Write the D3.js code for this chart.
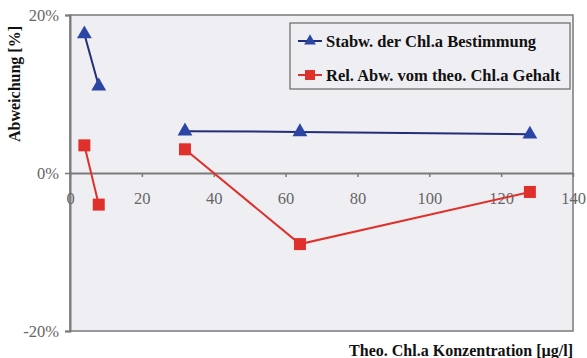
<!DOCTYPE html>
<html><head><meta charset="utf-8">
<script src="https://cdn.jsdelivr.net/npm/d3@7"></script>
<style>body{margin:0;background:#fff}</style>
</head><body>
<svg id="c" width="587" height="358"></svg>
<script>
const xValues = [4, 8, null, 32, 64, 128];
const stabw = [17.6, 11.0, null, 5.3, 5.2, 4.9];
const relAbw = [3.5, -4.0, null, 3.0, -9.0, -2.4];
const seriesNames = ["Stabw. der Chl.a Bestimmung", "Rel. Abw. vom theo. Chl.a Gehalt"];
const xTicks = [0, 20, 40, 60, 80, 100, 120, 140];
const yTicks = [-20, 0, 20];
const xTitle = "Theo. Chl.a Konzentration [µg/l]";
const yTitle = "Abweichung [%]";

const svg = d3.select("#c");
const L = 70, R = 573, T = 15, B = 331;
const x = d3.scaleLinear().domain([0, 140]).range([L, R]);
const y = d3.scaleLinear().domain([-20, 20]).range([B, T]);
const axisCol = "#7a7a7a";
const serif = "Liberation Serif, Times New Roman, serif";

svg.append("rect").attr("x", L).attr("y", T).attr("width", R - L).attr("height", B - T)
  .attr("fill", "#efeff3").attr("stroke", axisCol).attr("stroke-width", 1.5);

// y axis
const ya = svg.append("g").attr("transform", `translate(${L},0)`)
  .call(d3.axisLeft(y).tickValues(yTicks).tickSize(5).tickFormat(d => d + "%"));
ya.select(".domain").attr("stroke", axisCol).attr("stroke-width", 2);
ya.selectAll(".tick line").attr("stroke", axisCol).attr("stroke-width", 1.5);
ya.selectAll("text").attr("font-family", serif).attr("font-size", 16.5).attr("fill", "#666").attr("x", -11);

// x axis on zero line
const xa = svg.append("g").attr("transform", `translate(0,${y(0)})`)
  .call(d3.axisBottom(x).tickValues(xTicks).tickSize(4).tickSizeOuter(0));
xa.select(".domain").attr("stroke", axisCol).attr("stroke-width", 2);
xa.selectAll(".tick line").attr("stroke", axisCol).attr("stroke-width", 1.5);
xa.selectAll("text").attr("font-family", serif).attr("font-size", 16.5).attr("fill", "#666").attr("y", 19);

const idx = d3.range(xValues.length);
const line = vals => d3.line().defined(i => vals[i] !== null && xValues[i] !== null)
  .x(i => x(xValues[i])).y(i => y(vals[i]))(idx);

const blueLine = "#232e78", blueMark = "#2c45a5", red = "#e0302c";
svg.append("path").attr("d", line(stabw)).attr("fill", "none").attr("stroke", blueLine).attr("stroke-width", 2);
svg.append("path").attr("d", line(relAbw)).attr("fill", "none").attr("stroke", red).attr("stroke-width", 2);

const tri = d3.symbol().type(d3.symbolTriangle).size(95);
svg.selectAll(".tri").data(idx.filter(i => stabw[i] !== null)).enter().append("path")
  .attr("d", tri).attr("transform", i => `translate(${x(xValues[i])},${y(stabw[i])})`).attr("fill", blueMark);
svg.selectAll(".sq").data(idx.filter(i => relAbw[i] !== null)).enter().append("rect")
  .attr("x", i => x(xValues[i]) - 6).attr("y", i => y(relAbw[i]) - 6)
  .attr("width", 12).attr("height", 12).attr("fill", red);

// legend
const lg = svg.append("g");
lg.append("rect").attr("x", 290).attr("y", 23).attr("width", 280).attr("height", 66)
  .attr("fill", "#efeff3").attr("stroke", "#666").attr("stroke-width", 1.2);
const ly = [41, 75];
[0, 1].forEach(k => {
  const col = k === 0 ? blueLine : red;
  lg.append("line").attr("x1", 298).attr("x2", 322).attr("y1", ly[k]).attr("y2", ly[k]).attr("stroke", col).attr("stroke-width", 2);
  if (k === 0) lg.append("path").attr("d", d3.symbol().type(d3.symbolTriangle).size(60)).attr("transform", `translate(310,${ly[k]})`).attr("fill", blueMark);
  else lg.append("rect").attr("x", 305).attr("y", ly[k] - 5).attr("width", 10).attr("height", 10).attr("fill", red);
  lg.append("text").attr("x", 326).attr("y", ly[k] + 5.5).attr("font-family", serif).attr("font-weight", "bold")
    .attr("font-size", 16.5).attr("fill", "#111").text(seriesNames[k]);
});

svg.append("text").attr("x", 573).attr("y", 356).attr("text-anchor", "end").attr("font-family", serif)
  .attr("font-weight", "bold").attr("font-size", 16).attr("fill", "#111").text(xTitle);
svg.append("text").attr("transform", "translate(20,84) rotate(-90)").attr("text-anchor", "middle").attr("font-family", serif)
  .attr("font-weight", "bold").attr("font-size", 16).attr("fill", "#111").text(yTitle);
</script>
</body></html>
